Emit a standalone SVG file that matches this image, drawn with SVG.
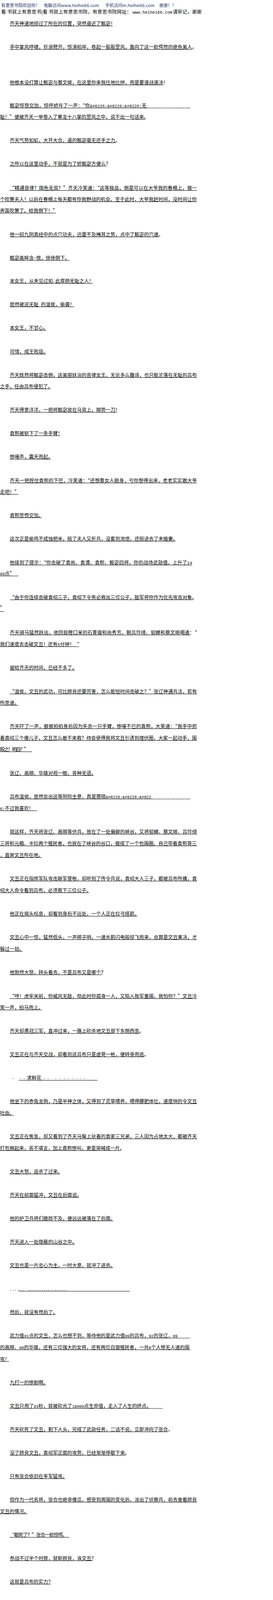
<svg xmlns="http://www.w3.org/2000/svg" width="700" height="4707" viewBox="0 0 700 4707">
<style>
.t{font-family:"Noto Sans CJK SC","Noto Sans",sans-serif;font-size:12.3px;fill:#000}
.m{font-family:"Liberation Mono","DejaVu Sans Mono",monospace;font-size:10.25px}
.u{stroke:#000;stroke-width:1;fill:none;shape-rendering:crispEdges}
.d{stroke-dasharray:5.15 1}
.h1{font-family:"Noto Sans CJK SC","Noto Sans",sans-serif;font-size:11px;fill:#2a3766}
.h2{font-family:"Noto Sans CJK SC","Noto Sans",sans-serif;font-size:12.3px;fill:#000}
.hm{font-family:"Liberation Mono","DejaVu Sans Mono",monospace;font-size:10.6px}
.ft{font-family:"Noto Sans CJK SC","Noto Sans",sans-serif;font-size:11.2px;fill:#1d2b5e}
</style>
<defs><clipPath id="clip"><rect x="0" y="0" width="517" height="4707"/></clipPath></defs>
<rect x="0" y="0" width="700" height="4707" fill="#fff"/>
<g id="header">
<text class="h1" y="17.5"><tspan x="3">有意思书院欢迎你！</tspan><tspan x="112">电脑访问www.heihei66.com</tspan><tspan x="270">手机访问m.heihei66.com</tspan><tspan x="408">谢谢！！</tspan></text>
<g clip-path="url(#clip)"><text class="h2" y="34.5" xml:space="preserve"><tspan x="3" textLength="334">看 书就上有意思书|看 书就上有意思书院，有意思书院网址：</tspan><tspan class="hm" x="340">www.heihei66.com</tspan><tspan x="443">请牢记，谢谢！</tspan></text></g>
</g>
<g class="t">
<g id="p1"><text x="25" y="64.5" textLength="270.6">齐天神速地掠过了所在的位置，突然逼近了甄宓！</text><path class="u" d="M25 66.5H289"/></g>
<g id="p2"><text x="25" y="124.5" textLength="479.7">手中掌风呼啸，巨浪劈开，惊涛拍岸，卷起一股股罡风，轰向了这一脸愕然的绝色美人。</text><path class="u" d="M25 126.5H493"/></g>
<g id="p3"><text x="25" y="215.5" textLength="405.9">他根本没打算让甄宓与蔡文姬，在这里你来我往地比拼，而是要速战速决！</text><path class="u" d="M25 217.5H419"/></g>
<g id="p4"><text x="25" y="274.5" textLength="350.55">甄宓惊怒交加，惊呼娇斥了一声：“你<tspan class="m">&amp;#8226;&amp;#8226;&amp;#8226;</tspan>无</text><path class="u" d="M25 276.5H375.5"/><path class="u d" d="M375.5 276.5H488"/>
<text x="0" y="303.5" textLength="381.3">耻！”便被齐天一举卷入了寒龙十八掌的罡风之中，说不出一句话来。</text><path class="u" d="M0 305.5H372"/></g>
<g id="p5"><text x="25" y="363.5" textLength="282.9">齐天气势如虹，大开大合，逼的甄宓毫无还手之力。</text><path class="u" d="M25 365.5H297"/></g>
<g id="p6"><text x="25" y="423.5" textLength="258.3">之所以在这里动手，不就是为了抓甄宓方便么？</text><path class="u" d="M25 425.5H273"/></g>
<g id="p7"><text x="25" y="485.5" textLength="479.7">“精通音律？国色无双？”齐天冷笑道：“这等极品，倒是可以在大爷我的春榻上，做一</text>
<text x="0" y="514.5" textLength="504.3">个吹箫夫人！以后在春榻上每天都有你我野战的机会。至于此时，大爷我赶时间，没时间让你</text>
<text x="0" y="543.5" textLength="147.6">弄笛吹箫了。给我倒下！”</text><path class="u" d="M25 487.5H505M0 516.5H505M0 545.5H143"/></g>
<g id="p8"><text x="25" y="604.5" textLength="393.6">他一招九阴真经中的点穴功夫，迅雷不及掩耳之势，点中了甄宓的穴道。</text><path class="u" d="M25 606.5H407"/></g>
<g id="p9"><text x="25" y="664.5" textLength="153.75">甄宓美眸含<tspan class="m">~</tspan>恨，徐徐倒下。</text><path class="u" d="M25 666.5H178"/></g>
<g id="p10"><text x="25" y="723.5" textLength="215.25">本女王，从未见过如<tspan class="m">-</tspan>此厚颜无耻之人！</text><path class="u" d="M25 725.5H238"/></g>
<g id="p11"><text x="25" y="783.5" textLength="166.05" xml:space="preserve">居然被这无耻<tspan class="m"> </tspan>的温侯，偷袭！</text><path class="u" d="M25 785.5H190"/></g>
<g id="p12"><text x="25" y="843.5" textLength="98.4">本女王，不甘心。</text><path class="u" d="M25 845.5H118"/></g>
<g id="p13"><text x="25" y="904.5" textLength="98.4">可惜，成王败寇。</text><path class="u" d="M25 906.5H118"/></g>
<g id="p14"><text x="25" y="964.5" textLength="479.7">齐天既然将甄宓击倒，这美丽妖冶的音律女王，无论多么腹诽，也只能沦落在无耻的吕布</text>
<text x="0" y="993.5" textLength="135.3">之手，任由吕布侵犯了。</text><path class="u" d="M25 966.5H505M0 995.5H130"/></g>
<g id="p15"><text x="25" y="1053.5" textLength="282.9">齐天得意洋洋，一把将甄宓放在马背上，顺势一刀！</text><path class="u" d="M25 1055.5H300"/></g>
<g id="p16"><text x="25" y="1113.5" textLength="135.3">袁熙被斩下了一条手臂！</text><path class="u" d="M25 1115.5H154"/></g>
<g id="p17"><text x="25" y="1173.5" textLength="110.7">惨嚎声，震天而起。</text><path class="u" d="M25 1175.5H130"/></g>
<g id="p18"><text x="25" y="1234.5" textLength="479.7">齐天一把捏住袁熙的下巴，冷笑道：“还想靠女人脱身，亏你想得出来，老老实实跟大爷</text>
<text x="0" y="1263.5" textLength="49.2">走吧！”</text><path class="u" d="M25 1236.5H505M0 1265.5H47"/></g>
<g id="p19"><text x="25" y="1323.5" textLength="86.1">袁熙悲愤交加。</text><path class="u" d="M25 1325.5H107"/></g>
<g id="p20"><text x="25" y="1383.5" textLength="430.5">这次正是偷鸡不成蚀把米，赔了夫人又折兵，没套到流氓，还赔进去了未婚妻。</text><path class="u" d="M25 1385.5H450"/></g>
<g id="p21"><text x="25" y="1444.5" textLength="467.4">他接到了提示：“你击破了袁尚、袁谭、袁熙、甄宓四将。你的战场武勋值，上升了<tspan class="m">24</tspan></text>
<text x="0" y="1472.5" textLength="36.9"><tspan class="m">00</tspan>点”</text><path class="u" d="M25 1446.5H493M0 1474.5H47"/></g>
<g id="p22"><text x="25" y="1533.5" textLength="479.7">“由于你连续击破袁绍三子，袁绍下令务必救出三位公子，敌军将你作为优先攻击对象。</text>
<text x="0" y="1561">”</text><path class="u" d="M25 1535.5H495M0 1565.5H10"/></g>
<g id="p23"><text x="25" y="1623.5" textLength="479.7">齐天骑马猛然跃出，收回目瞪口呆的石青璇和尚秀芳，朝吕玲绮、貂蝉和蔡文姬喝道：“</text>
<text x="0" y="1653.5" textLength="202.95">我们速度去击破文丑！还有<tspan class="m">5</tspan>分钟！“</text><path class="u" d="M25 1625.5H488M0 1655.5H202"/></g>
<g id="p24"><text x="25" y="1713.5" textLength="172.2">留给齐天的时间，已经不多了。</text><path class="u" d="M25 1715.5H192"/></g>
<g id="p25"><text x="25" y="1774.5" textLength="479.7">“温侯，文丑的武功，可比颜良还要厉害，怎么能短时间击破之？”张辽神通兵法，若有</text>
<text x="0" y="1803.5" textLength="49.2">所思道。</text><path class="u" d="M25 1776.5H505M0 1805.5H47"/></g>
<g id="p26"><text x="25" y="1863.5" textLength="479.7">齐天吓了一声，狠狠拍拍身后因为失去一只手臂，惨嚎不已的袁熙，大笑道：“我手中抓</text>
<text x="0" y="1893.5" textLength="504.3">着袁绍三个傻儿子，文丑怎么敢不来救？待会使得我将文丑引诱到埋伏圈，大家一起动手，围</text>
<text x="0" y="1922.5" textLength="73.8">殴之！明白？”</text><path class="u" d="M25 1865.5H505M0 1895.5H505M0 1924.5H82"/></g>
<g id="p27"><text x="25" y="1983.5" textLength="221.4">张辽、高顺、华雄对视一眼，各种无语。</text><path class="u" d="M25 1985.5H240"/></g>
<g id="p28"><text x="25" y="2043.5" textLength="362.85">吕布温侯，居然会出这等阴险主意，真是猥琐<tspan class="m">&amp;#8226;&amp;#8226;&amp;#822</tspan></text><path class="u" d="M25 2045.5H388"/><path class="u d" d="M388 2045.5H488"/>
<text x="0" y="2073.5" textLength="86.1"><tspan class="m">6;</tspan>不过我喜欢！</text><path class="u" d="M0 2075.5H95"/></g>
<g id="p29"><text x="25" y="2133.5" textLength="479.7">就这样，齐天将张辽、高顺等伏兵，放在了一处偏僻的峡谷，又将貂蝉、蔡文姬、吕玲绮</text>
<text x="0" y="2163.5" textLength="504.3">三将和元稹、卡拉两个殖民者，也放在了峡谷的谷口，做成了一个包围圈。自己带着袁熙哥三</text>
<text x="0" y="2193.5" textLength="110.7">，直奔文丑所在地。</text><path class="u" d="M25 2135.5H505M0 2165.5H505M0 2195.5H107"/></g>
<g id="p30"><text x="25" y="2253.5" textLength="479.7">文丑正在指挥军队攻击联军营帐，却听到了传令兵说，袁绍大人三子，都被吕布所擒，袁</text>
<text x="0" y="2283.5" textLength="233.7">绍大人命令看到吕布，必须救下三位公子。</text><path class="u" d="M25 2255.5H505M0 2285.5H228"/></g>
<g id="p31"><text x="25" y="2343.5" textLength="332.1">他正在摇头叹息，却看到身后不远处，一个人正在拉弓搭箭。</text><path class="u" d="M25 2345.5H352"/></g>
<g id="p32"><text x="25" y="2403.5" textLength="479.7">文丑心中一惊，猛然低头，一声梆子响，一道长箭闪电般掠飞而来，总算是文丑果决，才</text>
<text x="0" y="2433.5" textLength="61.5">躲过一劫。</text><path class="u" d="M25 2405.5H505M0 2435.5H58"/></g>
<g id="p33"><text x="25" y="2493.5" textLength="246">他勃然大怒，转头看去，不是吕布又是哪个？</text><path class="u" d="M25 2495.5H262"/></g>
<g id="p34"><text x="25" y="2554.5" textLength="479.7">“哼！虎牢关前，你威风无敌，但此时你孤身一人，又陷入我军重围，我怕你？”文丑冷</text>
<text x="0" y="2583.5" textLength="110.7">笑一声，拍马而上。</text><path class="u" d="M25 2556.5H505M0 2585.5H107"/></g>
<g id="p35"><text x="25" y="2643.5" textLength="344.4">齐天却勇冠三军，直冲过来，一路上砍杀地文丑部下东倒西歪。</text><path class="u" d="M25 2645.5H358"/></g>
<g id="p36"><text x="25" y="2703.5" textLength="356.7">文丑正在与齐天交战，却看到这吕布只是虚晃一枪，便转身而逃。</text><path class="u" d="M25 2705.5H370"/></g>
<g id="p37"><text y="2763.5"><tspan class="m" x="30">·</tspan><tspan class="m" x="49">·</tspan><tspan class="m" x="59">·</tspan><tspan x="69">求鲜花</tspan><tspan class="m" x="110">·</tspan><tspan class="m" x="120">·</tspan><tspan class="m" x="140 151 162 172 184 194 204 214">········</tspan></text><path class="u" d="M48 2765.5H250"/></g>
<g id="p38"><text x="25" y="2823.5" textLength="479.7">他坐下的赤兔龙驹，乃是半神之体，又得到了灵草喂养，喂得膘肥体壮，速度快的令文丑</text>
<text x="0" y="2853.5" textLength="36.9">吐血。</text><path class="u" d="M25 2825.5H505M0 2855.5H35"/></g>
<g id="p39"><text x="25" y="2913.5" textLength="479.7">文丑正在焦急，却又看到了齐天马臀上驮着的袁家三兄弟，三人因为占地太大，都被齐天</text>
<text x="0" y="2943.5" textLength="319.8">打包捆起来，苦不堪言，加上袁熙惨叫，更是哭喊成一片。</text><path class="u" d="M25 2915.5H505M0 2945.5H310"/></g>
<g id="p40"><text x="25" y="3003.5" textLength="135.3">文丑大怒，追杀了过来。</text><path class="u" d="M25 3005.5H154"/></g>
<g id="p41"><text x="25" y="3063.5" textLength="184.5">齐天在前面猛冲，文丑在后面追。</text><path class="u" d="M25 3065.5H203"/></g>
<g id="p42"><text x="25" y="3123.5" textLength="270.6">他的护卫兵将们跟踪不及，便远远被落在了后面。</text><path class="u" d="M25 3125.5H290"/></g>
<g id="p43"><text x="25" y="3183.5" textLength="172.2">齐天进入一处隐蔽的山谷之中。</text><path class="u" d="M25 3185.5H192"/></g>
<g id="p44"><text x="25" y="3243.5" textLength="270.6">文丑也是一片忠心为主，一时大意，就冲了进去。</text><path class="u" d="M25 3245.5H290"/></g>
<g id="p45"><text y="3303.5"><tspan class="m" x="24 30.5 37 43.5">....</tspan><tspan class="m" x="46 52 58 71 76 81 86 91 96 101 106 111 116 121 129 134 139 144 149 154 159 164">......................</tspan></text><path class="u" d="M48 3305.5H333"/></g>
<g id="p46"><text x="25" y="3363.5" textLength="123">然后，就没有然后了。</text><path class="u" d="M25 3365.5H143"/></g>
<g id="p47"><text x="25" y="3423.5" textLength="430.5">武力值<tspan class="m">91</tspan>点的文丑，怎么也想不到，等待他的是武力值<tspan class="m">99</tspan>的吕布，<tspan class="m">92</tspan>的张辽、<tspan class="m">89</tspan></text><path class="u" d="M25 3425.5H456"/><path class="u d" d="M456 3425.5H488"/>
<text x="0" y="3453.5" textLength="485.85">的高顺、<tspan class="m">90</tspan>的华雄，还有三位强大的女将，还有两位白银殖民者，一共<tspan class="m">9</tspan>个人惨无人道的围</text>
<text x="0" y="3483.5" textLength="24.6">攻！</text><path class="u" d="M0 3455.5H488M0 3485.5H23"/></g>
<g id="p48"><text x="25" y="3543.5" textLength="98.4">九打一的惨剧啊。</text><path class="u" d="M25 3545.5H118"/></g>
<g id="p49"><text x="25" y="3603.5" textLength="362.85">文丑只用了<tspan class="m">93</tspan>秒，就被砍光了<tspan class="m">18000</tspan>点生命值，走入了人生的终点。</text><path class="u" d="M25 3605.5H383"/><path class="u d" d="M383 3605.5H417"/></g>
<g id="p50"><text x="25" y="3663.5" textLength="418.2">齐天砍死了文丑，割下人头，完成了武勋任务，二话不说，立即冲向了张合。</text><path class="u" d="M25 3665.5H430"/></g>
<g id="p51"><text x="25" y="3723.5" textLength="307.5">没了颜良文丑，袁绍军正面的攻势，已经渐渐停歇下来。</text><path class="u" d="M25 3725.5H322"/></g>
<g id="p52"><text x="25" y="3783.5" textLength="147.6">只有张合依旧在率军猛攻。</text><path class="u" d="M25 3785.5H167"/></g>
<g id="p53"><text x="25" y="3843.5" textLength="479.7">但作为一代名将，张合也绝非傻瓜，感受到周围的变化后，派出了侦察兵，前去查看颜良</text>
<text x="0" y="3873.5" textLength="73.8">文丑的情况。</text><path class="u" d="M25 3845.5H505M0 3875.5H70"/></g>
<g id="p54"><text x="25" y="3933.5" textLength="147.6">“都死了？”张合一脸惊愕。</text><path class="u" d="M25 3935.5H178"/></g>
<g id="p55"><text x="25" y="3993.5" textLength="221.4">参战不过半个时辰，就斩颜良，诛文丑？</text><path class="u" d="M25 3995.5H238"/></g>
<g id="p56"><text x="25" y="4053.5" textLength="110.7">这就是吕布的实力？</text><path class="u" d="M25 4055.5H130"/></g>
<g id="p57"><text x="25" y="4113.5" textLength="172.2">一道红色闪电从远处奔袭而来。</text><path class="u" d="M25 4115.5H192"/></g>
<g id="p58"><text x="25" y="4173.5" textLength="86.1">“是吕布啊！”</text><path class="u" d="M25 4175.5H107"/></g>
<g id="p59"><text x="25" y="4233.5" textLength="123">“吕布来了！快逃啊”</text><path class="u" d="M25 4235.5H143"/></g>
<g id="p60"><text x="25" y="4293.5" textLength="479.7">袁绍军的士气，被齐天一次次斩杀大将，生擒袁家三子，弄的不断跌落，此时看到了齐天</text>
<text x="0" y="4323.5" textLength="282.9">带着人，气势汹汹杀来，居然有一小部分不战而逃。</text><path class="u" d="M25 4295.5H505M0 4325.5H290"/></g>
<g id="p61"><text x="0" y="4383.5" textLength="338.25" xml:space="preserve">飞卢提醒您：读书三件事<tspan class="m"> – </tspan>收藏、推荐、分享！<tspan class="m">(ws02952768)</tspan></text><path class="u" d="M0 4385.5H338"/><path class="u d" d="M338 4385.5H417"/></g>
<g id="p62"><text x="0" y="4443.5" textLength="369">支持飞卢小说网<tspan class="m">(http://b.faloo.com)</tspan>原创作品，尽享阅读的喜悦！</text><path class="u" d="M0 4445.5H369"/><path class="u d" d="M369 4445.5H477"/></g>
</g>
<g id="footer">
<g clip-path="url(#clip)"><text class="h2" y="4502.5" xml:space="preserve"><tspan x="3" textLength="334">看 书就上有意思书|看 书就上有意思书院，有意思书院网址：</tspan><tspan class="hm" x="340">www.heihei66.com</tspan><tspan x="443">请牢记，谢谢！</tspan></text></g>
<text class="ft" x="40" y="4565" textLength="312" xml:space="preserve">有意思书院 更新速度快 小说资源多 一切只为书友提供免费平台</text>
</g>
</svg>
